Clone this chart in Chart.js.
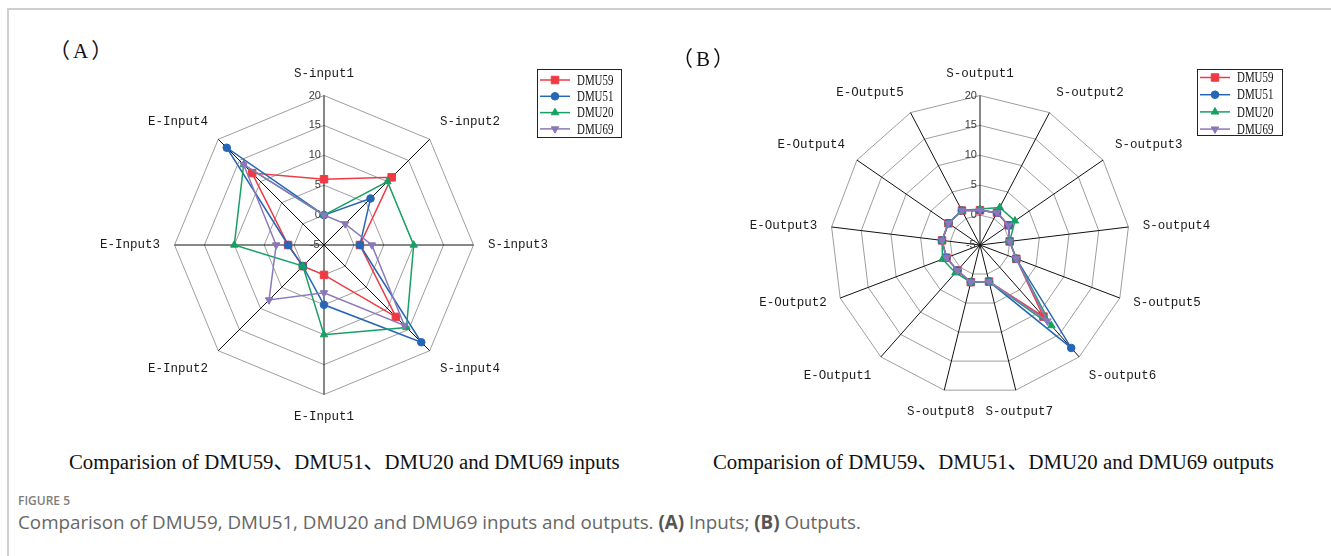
<!DOCTYPE html>
<html>
<head>
<meta charset="utf-8">
<script src="https://cdn.jsdelivr.net/npm/chart.js@4.4.1/dist/chart.umd.min.js"></script>
<style>
  html, body { margin: 0; padding: 0; background: #fff; }
  body { width: 1331px; height: 556px; position: relative; overflow: hidden; }
  .frame { position: absolute; left: 7px; top: 8px; width: 1340px; height: 560px;
           border-top: 2px solid #cfcfcf; border-left: 2px solid #cfcfcf; }
  canvas { position: absolute; }
  #cA { left: 24px; top: 66px; }
  #cB { left: 670px; top: 64px; }
  .panel { position: absolute; font-family: "Liberation Serif", "Noto Sans CJK SC", serif;
           font-size: 21px; line-height: 1; color: #111; letter-spacing: 3px; }
  .sub { position: absolute; font-family: "Liberation Serif", "Noto Sans CJK SC", serif;
         font-size: 20.8px; line-height: 1; color: #111; white-space: nowrap; }
  .fig { position: absolute; left: 18px; top: 495px; font-family: "Open Sans", sans-serif;
         font-weight: 600; font-size: 12px; line-height: 1; color: #7d7d7d; white-space: nowrap; }
  .cap { position: absolute; left: 18px; top: 513px; font-family: "Open Sans", sans-serif;
         font-size: 18.8px; line-height: 1; color: #666; white-space: nowrap; }
  .cap b { color: #555; font-weight: 700; }
</style>
</head>
<body>
<div class="frame"></div>
<canvas id="cA" width="600" height="359"></canvas>
<canvas id="cB" width="620" height="359"></canvas>
<div class="panel" style="left:49px; top:41px;">（A）</div>
<div class="panel" style="left:672px; top:49px;">（B）</div>
<div class="sub" style="left:69px; top:452px;">Comparision of DMU59、DMU51、DMU20 and DMU69 inputs</div>
<div class="sub" style="left:713px; top:452px;">Comparision of DMU59、DMU51、DMU20 and DMU69 outputs</div>
<div class="fig">FIGURE 5</div>
<div class="cap">Comparison of DMU59, DMU51, DMU20 and DMU69 inputs and outputs. <b>(A)</b> Inputs; <b>(B)</b> Outputs.</div>

<script>
// ---- data: inputs panel ----
const inputLabels = ['S-input1', 'S-input2', 'S-input3', 'S-input4', 'E-Input1', 'E-Input2', 'E-Input3', 'E-Input4'];
const dmu59Inputs = [6, 11, 1, 12, 0, 0, 1, 12];
const dmu51Inputs = [0, 6, 1, 18, 5, 0, 1, 18];
const dmu20Inputs = [0, 10, 10, 14.5, 10, 0, 10, 14];
const dmu69Inputs = [0, 0, 3, 14, 3, 8, 3, 14];

// ---- data: outputs panel ----
const outputLabels = ['S-output1', 'S-output2', 'S-output3', 'S-output4', 'S-output5', 'S-output6', 'S-output7',
                      'S-output8', 'E-Output1', 'E-Output2', 'E-Output3', 'E-Output4', 'E-Output5'];
const dmu59Outputs = [0.8, 1.1, 0.8, 0, 1.5, 11, 1.3, 1.4, 0.7, 1, 1.4, 1.4, 1.5];
const dmu51Outputs = [0.8, 1.1, 0.8, 0, 1.5, 18, 1.3, 1.4, 0.7, 1, 1.4, 1.4, 1.5];
const dmu20Outputs = [1.0, 2.1, 2.1, 0, 1.5, 13, 1.3, 1.4, 1.2, 1.7, 1.4, 1.4, 1.5];
const dmu69Outputs = [0.8, 1.1, 0.8, 0, 1.5, 12, 1.3, 1.4, 0.7, 1, 1.4, 1.4, 1.5];

// ---- scale ----
const scaleMin = -5;
const scaleMax = 20;
const scaleStep = 5;

const seriesNames = ['DMU59', 'DMU51', 'DMU20', 'DMU69'];
const seriesStyle = [
  { color: '#ef3a44', pointStyle: 'rect', pointRadius: 5.3, rotation: 0 },
  { color: '#2766b4', pointStyle: 'circle', pointRadius: 3.8, rotation: 0 },
  { color: '#17a063', pointStyle: 'triangle', pointRadius: 4.3, rotation: 0 },
  { color: '#8b78bb', pointStyle: 'triangle', pointRadius: 4.3, rotation: 180 }
];

function buildDatasets(valueSets) {
  return valueSets.map((vals, i) => {
    const s = seriesStyle[i];
    return {
      label: seriesNames[i],
      data: vals,
      borderColor: s.color,
      backgroundColor: s.color,
      pointBackgroundColor: s.color,
      pointBorderColor: s.color,
      pointStyle: s.pointStyle,
      pointRotation: s.rotation,
      pointRadius: s.pointRadius,
      pointBorderWidth: 1,
      borderWidth: 1.5,
      fill: false,
      order: valueSets.length - i
    };
  });
}

// Boxed legend with line + marker samples
const boxLegend = {
  id: 'boxLegend',
  afterDraw(chart, args, opts) {
    const ctx = chart.ctx;
    ctx.save();
    ctx.fillStyle = '#ffffff';
    ctx.fillRect(opts.x, opts.y, opts.width, opts.height);
    ctx.strokeStyle = '#222';
    ctx.lineWidth = 1;
    ctx.strokeRect(opts.x + 0.5, opts.y + 0.5, opts.width, opts.height);
    chart.data.datasets.forEach((ds, i) => {
      const y = opts.y + opts.firstRow + i * opts.rowStep;
      const x0 = opts.x + 3;
      const x1 = x0 + 30;
      ctx.strokeStyle = ds.borderColor;
      ctx.lineWidth = 1.5;
      ctx.beginPath();
      ctx.moveTo(x0, y);
      ctx.lineTo(x1, y);
      ctx.stroke();
      ctx.fillStyle = ds.pointBackgroundColor;
      ctx.strokeStyle = ds.pointBorderColor;
      ctx.lineWidth = 1;
      Chart.helpers.drawPoint(ctx, {
        pointStyle: ds.pointStyle, rotation: ds.pointRotation, radius: ds.pointRadius, borderWidth: 1
      }, (x0 + x1) / 2, y);
      ctx.save();
      ctx.translate(x1 + 7, y + 1);
      ctx.scale(0.78, 1);
      ctx.font = '14px "Liberation Serif", serif';
      ctx.fillStyle = '#111';
      ctx.textBaseline = 'middle';
      ctx.textAlign = 'left';
      ctx.fillText(ds.label, 0, 0);
      ctx.restore();
    });
    ctx.restore();
  }
};

function tickText(v) {
  const s = String(v);
  return s + ' '.repeat(2 * s.length + 2);
}

// Centre the point labels that sit below the hub horizontally,
// and the ones beside it vertically.
function placePointLabels(scale) {
  const items = scale._pointLabelItems;
  if (!items) return;
  const tickFont = scale.options.ticks.font || {};
  const extra = (tickFont.size || 11) / 2;
  const pad = scale.options.pointLabels.padding || 0;
  items.forEach((item, i) => {
    const deg = Chart.helpers.toDegrees(scale.getIndexAngle(i));
    const pos = scale.getPointPosition(i, scale.drawingArea + extra + pad);
    const w = item.right - item.left;
    const h = item.bottom - item.top;
    if (Math.abs(deg - 180) <= 25) {
      item.textAlign = 'center';
      item.x = pos.x;
      item.left = pos.x - w / 2;
      item.right = pos.x + w / 2;
    }
    if (Math.abs(deg - 90) <= 25 || Math.abs(deg - 270) <= 25) {
      item.y = pos.y - h / 2;
      item.top = item.y;
      item.bottom = item.y + h;
    }
  });
}

function radarConfig(labels, valueSets, legendBox) {
  return {
    type: 'radar',
    data: { labels: labels, datasets: buildDatasets(valueSets) },
    options: {
      responsive: false,
      animation: false,
      devicePixelRatio: 1,
      layout: { padding: 0 },
      plugins: {
        legend: { display: false },
        tooltip: { enabled: false },
        boxLegend: legendBox
      },
      scales: {
        r: {
          min: scaleMin,
          max: scaleMax,
          afterFit: placePointLabels,
          ticks: {
            stepSize: scaleStep,
            showLabelBackdrop: false,
            backdropPadding: 0,
            color: '#3a3a3a',
            font: { family: '"Liberation Sans", sans-serif', size: 11 },
            callback: tickText
          },
          grid: { color: '#9e9e9e', lineWidth: 1, circular: false },
          angleLines: { color: '#111', lineWidth: 1 },
          pointLabels: {
            color: '#1a1a1a',
            padding: 9,
            font: { family: '"Liberation Mono", monospace', size: 12.5 }
          }
        }
      }
    },
    plugins: [boxLegend]
  };
}

new Chart(document.getElementById('cA'), radarConfig(
  inputLabels,
  [dmu59Inputs, dmu51Inputs, dmu20Inputs, dmu69Inputs],
  { x: 513, y: 3, width: 84, height: 68, firstRow: 11, rowStep: 16.3 }
));

new Chart(document.getElementById('cB'), radarConfig(
  outputLabels,
  [dmu59Outputs, dmu51Outputs, dmu20Outputs, dmu69Outputs],
  { x: 527, y: 5, width: 85, height: 66, firstRow: 8.5, rowStep: 17.2 }
));
</script>
</body>
</html>
